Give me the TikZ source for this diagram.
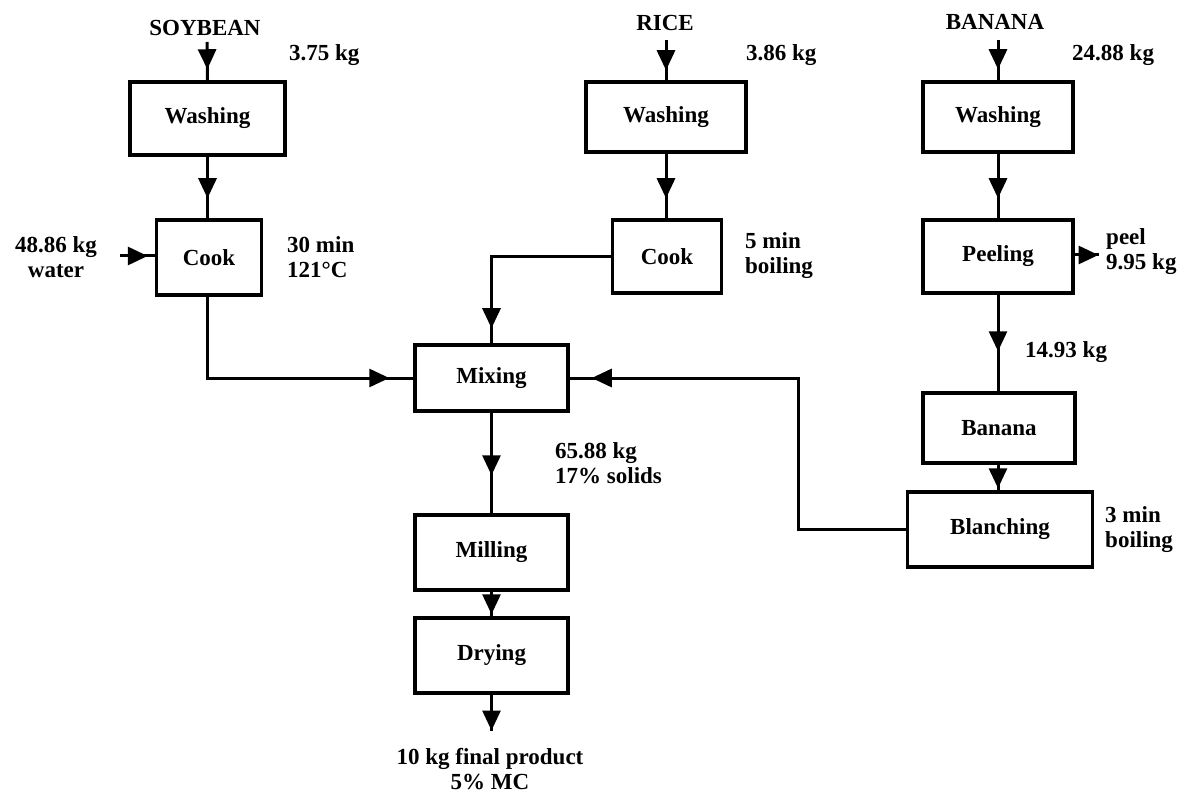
\documentclass[tikz,border=0pt]{standalone}
\usepackage{fontspec}
\setmainfont{Liberation Serif}
\usetikzlibrary{arrows.meta,decorations.markings}
\begin{document}
\begin{tikzpicture}[x=1pt,y=-1pt,
  font=\fontsize{23}{25}\selectfont\bfseries,
  box/.style={draw,line width=3.5pt,minimum width=#1,inner sep=0pt},
  box/.default=153pt,
  lbl/.style={align=left,anchor=west,inner sep=0pt},
  flow/.style={line width=3pt,postaction={decorate},
    decoration={markings,mark=at position #1 with {\arrow{Triangle[width=18pt,length=20pt]}}}},
]
\useasboundingbox (0,0) rectangle (1186,794);
% soybean column
\node[box=155pt,minimum height=73pt] (sw) at (207.5,118.5) {Washing};
\node[box=105pt,minimum height=75pt] (sc) at (209,257.5) {Cook};
\node[inner sep=0pt] (soy) at (205,28) {SOYBEAN};
\coordinate (soyin) at (207,42);
\node[lbl] (soykg) at (289,55) {3.75 kg};
\node[align=center,inner sep=0pt] (water) at (56,257) {48.86 kg\\water};
\coordinate (win) at (120,256);
\node[lbl] (sccond) at (287,257) {30 min\\121°C};
% rice column
\node[box=160pt,minimum height=70pt] (rw) at (666,117) {Washing};
\node[box=109pt,minimum height=73pt] (rc) at (667,256.5) {Cook};
\node[inner sep=0pt] (rice) at (665,23) {RICE};
\coordinate (ricein) at (666,40);
\node[lbl] (ricekg) at (746,55) {3.86 kg};
\node[lbl] (rccond) at (745,256) {5 min\\boiling};
% middle column
\node[box,minimum height=66pt] (mix) at (491.5,378) {Mixing};
\node[box,minimum height=75pt] (mill) at (491.5,552.5) {Milling};
\node[box,minimum height=75pt] (dry) at (491.5,655.5) {Drying};
\node[lbl] (mixkg) at (555,463) {65.88 kg\\17\% solids};
\coordinate (out) at (491.5,731);
\node[align=center,inner sep=0pt] (prod) at (490,769) {10 kg final product\\5\% MC};
% banana column
\node[box=150pt,minimum height=70pt] (bw) at (998,117) {Washing};
\node[box=150pt,minimum height=73pt] (peel) at (998,256.5) {Peeling};
\node[box=152pt,minimum height=70pt] (ban) at (999,428) {Banana};
\node[box=185pt,minimum height=75pt] (blan) at (1000,529.5) {Blanching};
\node[inner sep=0pt] (banana) at (995,22) {BANANA};
\coordinate (banin) at (998,40);
\node[lbl] (bankg) at (1072,55) {24.88 kg};
\coordinate (peelout) at (1099,255);
\node[lbl] (peelkg) at (1106,252) {peel\\9.95 kg};
\node[lbl] (pkg) at (1025,352) {14.93 kg};
\node[lbl] (blcond) at (1105,530) {3 min\\boiling};
% connectors
\draw[flow=-11pt] (soyin) -- (sw.north);
\draw[flow=-20pt] (sw.south) -- (sw.south |- sc.north);
\draw[flow=-7pt] (win) -- (win -| sc.west);
\draw[flow=-24pt] (sw.south |- sc.south) -- (207.5,378) -- (mix.west);
\draw[flow=-10pt] (ricein) -- (rw.north);
\draw[flow=-20pt] (rw.south) -- (rw.south |- rc.north);
\draw[flow=-15pt] (rc.west) -- (mix.north |- rc.west) -- (mix.north);
\draw[flow=-38pt] (mix.south) -- (mill.north);
\draw[flow=-2pt] (mill.south) -- (dry.north);
\draw[flow=-0.5pt] (dry.south) -- (out);
\draw[flow=-11pt] (banin) -- (bw.north);
\draw[flow=-20pt] (bw.south) -- (peel.north);
\draw[flow=-0.5pt] (peel.east |- peelout) -- (peelout);
\draw[flow=-40pt] (peel.south) -- (peel.south |- ban.north);
\draw[flow=-2pt] (peel.south |- ban.south) -- (peel.south |- blan.north);
\draw[flow=-22pt] (blan.west) -- (798,529.5) -- (798,378) -- (mix.east);
\end{tikzpicture}
\end{document}
